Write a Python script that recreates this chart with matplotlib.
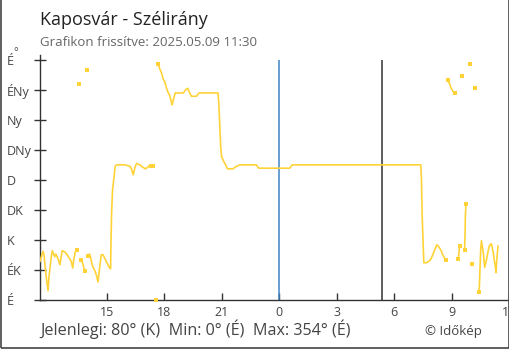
import numpy as np
import matplotlib.pyplot as plt
from matplotlib.patches import Rectangle

plt.rcParams['font.family'] = ['Open Sans', 'DejaVu Sans']

# idő (óra, a második nap > 24), None = adathiány
hours = [
    11.50, 11.60, 11.66, 11.71, 11.75, 11.81, 11.87, 11.92, 11.97, 12.02, 12.09, 12.14,
    12.27, 12.33, 12.44, 12.54, 12.66, 12.80, 12.92, 13.05, 13.13, 13.21, 13.27, 13.34, 13.41,
    None, 13.55, None,
    13.65, 13.72, 13.78, 13.83,
    None, 13.94, None,
    14.00, 14.09, 14.14, 14.21, 14.26, 14.35, 14.44, 14.53, 14.58, 14.63, 14.70, 14.79,
    14.88, 14.96, 15.05, 15.14, 15.19, 15.20, 15.24, 15.29, 15.36, 15.43, 15.50, 15.93,
    16.19, 16.28, 16.37, 16.46, 16.54, 16.72, 16.89, 17.01, 17.15, 17.24, 17.30,
    None, 17.41, None, 17.57, None,
    17.67, 17.76, 17.85, 17.93, 18.02, 18.11, 18.19, 18.28, 18.33, 18.40, 18.49, 18.56,
    18.98, 19.12, 19.22, 19.32, 19.41, 19.67, 19.81, 20.80, 20.84, 20.89, 20.94, 20.99,
    21.10, 21.20, 21.29, 21.58, 21.71, 21.93, 22.80, 22.92, 24.54, 24.68, 31.39, 31.43,
    31.46, 31.52, 31.55, 31.70, 31.84, 31.93, 32.02, 32.10, 32.23, 32.33, 32.46, 32.54,
    32.63, 32.70,
    None, 32.80, 32.89, 32.98, 33.06, 33.17,
    None, 33.32, 33.37, 33.42,
    None, 33.53, None,
    33.68, 33.71, 33.72, 33.75,
    None, 33.95, None, 34.06, None, 34.21, None,
    34.42, 34.45, 34.49, 34.52, 34.56, 34.63, 34.68, 34.73, 34.82, 34.92, 34.97, 35.03,
    35.08, 35.13, 35.18, 35.23, 35.29, 35.32, 35.35, 35.39, 35.43,
]
degrees = [
    58, 68, 73, 68, 55, 38, 25, 14, 35, 48, 65, 74,
    65, 69, 62, 53, 74, 72, 68, 62, 58, 48, 62, 72, 75,
    None, 324, None,
    60, 56, 50, 44,
    None, 345, None,
    66, 69, 64, 55, 50, 45, 38, 27, 40, 52, 68, 68,
    63, 58, 53, 48, 47, 75, 131, 165, 183, 201, 203, 203,
    201, 197, 188, 199, 205, 203, 199, 197, 200, 202, 202,
    None, 202, None, 0, None,
    354, 347, 341, 332, 328, 318, 312, 307, 301, 293, 303, 311,
    311, 316, 318, 311, 306, 306, 311, 311, 296, 263, 230, 215,
    208, 203, 197, 197, 200, 203, 203, 198, 198, 203, 203, 178,
    130, 80, 56, 56, 59, 62, 68, 74, 83, 80, 74, 68,
    63, 60,
    None, 331, 325, 318, 314, 311,
    None, 61, 66, 81,
    None, 337, None,
    75, 105, 125, 144,
    None, 354, None, 54, None, 318, None,
    12, 19, 49, 75, 89, 76, 65, 49, 60, 75, 81, 84,
    84, 78, 70, 60, 50, 41, 55, 70, 81,
]

dir_ticks = [0, 45, 90, 135, 180, 225, 270, 315, 360]
dir_labels = ['É', 'ÉK', 'K', 'DK', 'D', 'DNy', 'Ny', 'ÉNy', 'É']
hour_ticks = [15, 18, 21, 24, 27, 30, 33, 36]
hour_labels = ['15', '18', '21', '0', '3', '6', '9', '12']
midnight = 24
sunrise = 29.34

t = np.array([np.nan if v is None else v for v in hours], dtype=float)
d = np.array([np.nan if v is None else v for v in degrees], dtype=float)

fig = plt.figure(figsize=(5.1, 3.5), dpi=100)
ax = fig.add_axes([40 / 510, 50 / 350, 469 / 510, 245 / 350])

yellow = '#ffd338'
ax.plot(t, d, color=yellow, lw=1.2, zorder=3)

# pontok a hiányok szélén
ok = ~np.isnan(d)
prev_nan = np.r_[False, np.isnan(d[:-1])]
next_nan = np.r_[np.isnan(d[1:]), False]
edge = ok & (prev_nan | next_nan)
ax.plot(t[edge], d[edge], 's', color=yellow, ms=3, mew=0, zorder=4, clip_on=False)

ax.vlines(midnight, 0, 360, color='#3d85c6', lw=1.1, zorder=2)
ax.vlines(sunrise, 0, 360, color='#333333', lw=1.1, zorder=2)

ax.set_xlim(11.5, 36)
ax.set_ylim(0, 368)
for s in ['top', 'right']:
    ax.spines[s].set_visible(False)
for s in ['left', 'bottom']:
    ax.spines[s].set_color('#333333')
    ax.spines[s].set_linewidth(1.0)

ax.set_yticks(dir_ticks)
ax.set_yticklabels(dir_labels)
ax.set_xticks(hour_ticks)
ax.set_xticklabels(hour_labels)
ax.tick_params(axis='y', direction='inout', length=8.5, width=1, color='#333333',
               labelsize=9, labelcolor='#444444', pad=19.5)
for lbl in ax.get_yticklabels():
    lbl.set_horizontalalignment('left')
ax.tick_params(axis='x', direction='in', length=5, width=1, color='#333333',
               labelsize=9, labelcolor='#444444', pad=4)

fig.text(13 / 510, 1 - 53 / 350, '°', fontsize=8, color='#444444', ha='left', va='center')

fig.text(40 / 510, 1 - 25 / 350, 'Kaposvár - Szélirány', fontsize=13, color='#222222',
         ha='left', va='baseline')
fig.text(40 / 510, 1 - 45.5 / 350, 'Grafikon frissítve: 2025.05.09 11:30', fontsize=9.5,
         color='#666666', ha='left', va='baseline')
fig.text(40 / 510, 1 - 335 / 350, 'Jelenlegi: 80° (K)  Min: 0° (É)  Max: 354° (É)',
         fontsize=11.6, color='#444444', ha='left', va='baseline')
fig.text(425 / 510, 1 - 335 / 350, '© Időkép', fontsize=9.5, color='#444444',
         ha='left', va='baseline')

# keret
fig.patches.append(Rectangle((1 / 510, 2 / 350), 508 / 510, 1.2, transform=fig.transFigure,
                             fill=False, edgecolor='#444444', lw=1.2, clip_on=False))

fig.savefig('out.png', dpi=100)
